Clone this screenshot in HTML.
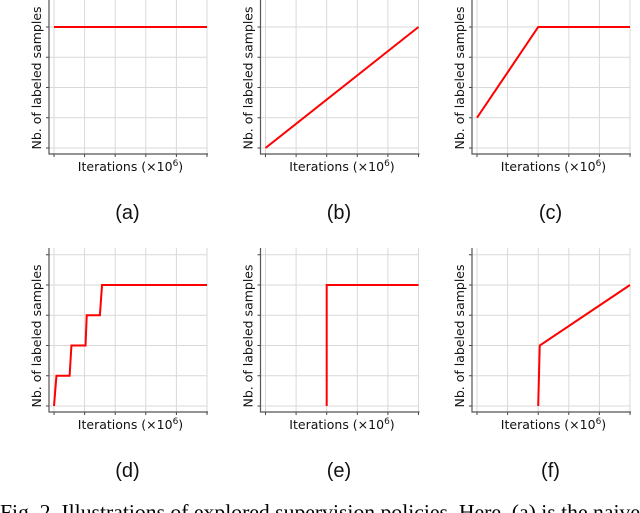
<!DOCTYPE html>
<html><head><meta charset="utf-8"><style>
html,body{margin:0;padding:0;background:#fff;width:640px;height:513px;overflow:hidden}
svg{display:block}
</style></head><body>
<svg id="fig" width="640" height="513" xmlns="http://www.w3.org/2000/svg">
<text x="0" y="519" textLength="640" lengthAdjust="spacingAndGlyphs" font-family="Liberation Serif, serif" font-size="21" fill="#000">Fig. 2.  Illustrations of explored supervision policies. Here, (a) is the naive</text>
</svg>
<script>
const panelLabels = ["(a)","(b)","(c)","(d)","(e)","(f)"];
const seriesX = [
  [0,5],
  [0,5],
  [0,2,5],
  [0,0.08,0.51,0.57,1.03,1.07,1.5,1.57,5],
  [2,2,5],
  [2,2.05,5]
];
const seriesY = [
  [4,4],
  [0,4],
  [1,4,4],
  [0,1,1,2,2,3,3,4,4],
  [0,4,4],
  [0,2,4]
];
const xTicks = [0,1,2,3,4,5];
const yTicks = [0,1,2,3,4,5];
const NS = "http://www.w3.org/2000/svg";
const svg = document.getElementById("fig");
function mk(tag, attrs, parent){const e=document.createElementNS(NS,tag);for(const k in attrs)e.setAttribute(k,attrs[k]);(parent||svg).appendChild(e);return e;}
panelLabels.forEach((lab,i)=>{
  const ox = (i%3)*211.5, oy = Math.floor(i/3)*258;
  const g = mk("g",{});
  
  
  const X = v => ox + 54 + v*30.6;
  const Y = v => oy + 148 - v*30.25;
  const spL = ox+49, spB = oy+154;
  xTicks.forEach(t=>{const l=mk("line",{x1:X(t),x2:X(t),y1:oy-10,y2:spB,stroke:"#d9d9d9","stroke-width":1},g);
    
    mk("line",{x1:X(t),x2:X(t),y1:spB,y2:spB+3,stroke:"#444","stroke-width":1},g);});
  yTicks.forEach(t=>{if(Y(t)<oy-10)return;const l=mk("line",{x1:spL,x2:X(5),y1:Y(t),y2:Y(t),stroke:"#d9d9d9","stroke-width":1},g);
    
    mk("line",{x1:spL-3,x2:spL,y1:Y(t),y2:Y(t),stroke:"#444","stroke-width":1},g);});
  const ax=mk("path",{d:`M${spL},${oy-10}V${spB}H${X(5)+1}`,fill:"none",stroke:"#555","stroke-width":1.2},g);
  
  const pts = seriesX[i].map((x,j)=>X(x)+","+Y(seriesY[i][j])).join(" ");
  const pl = mk("polyline",{points:pts,fill:"none",stroke:"#ff0000","stroke-width":2},g);
  
  const xl = mk("text",{x:X(2.5),y:oy+171,"text-anchor":"middle","font-family":"DejaVu Sans, sans-serif","font-size":12.5,fill:"#111"},g);
  xl.innerHTML='Iterations (×10<tspan dy="-5" font-size="9">6</tspan><tspan dy="5">)</tspan>';
  
  const cy = oy+78, cx = ox+41;
  const yl = mk("text",{x:cx,y:cy,transform:`rotate(-90 ${cx} ${cy})`,"text-anchor":"middle","font-family":"DejaVu Sans, sans-serif","font-size":12.5,fill:"#111"},g);
  yl.textContent='Nb. of labeled samples';
  
  const pt = mk("text",{x:X(2.5)-3,y:oy+219,"text-anchor":"middle","font-family":"Liberation Sans, sans-serif","font-size":20,fill:"#111"},g);
  pt.textContent=lab;
  
});
</script>
</body></html>
